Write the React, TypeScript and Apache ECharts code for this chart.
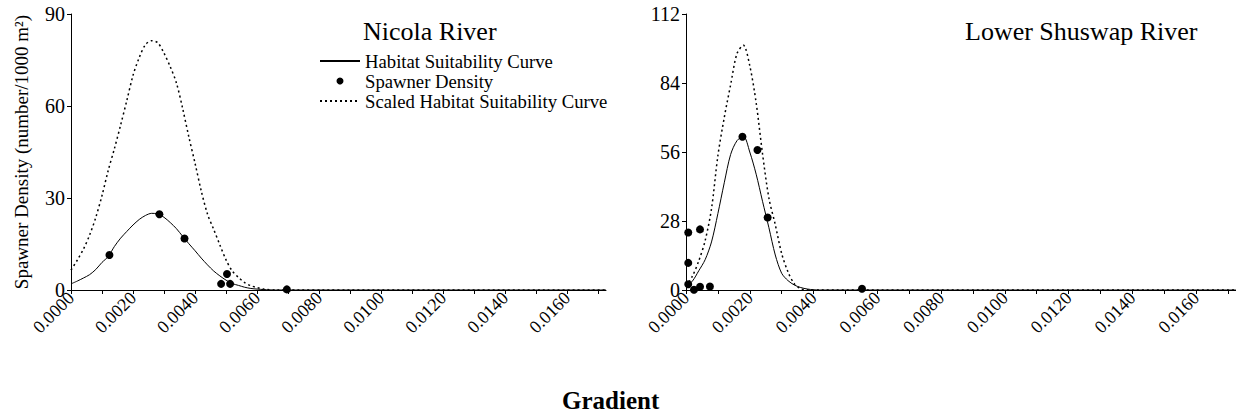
import React, { useEffect, useRef } from 'react';
import * as echarts from 'echarts';

const FONT = 'Liberation Serif';

// ---- Nicola River ----
const nicolaCurveX = [
  0, 0.0002, 0.0004, 0.0006, 0.0008, 0.001, 0.0012, 0.0014, 0.0016, 0.0018,
  0.002, 0.0022, 0.0024, 0.0026, 0.0028, 0.003, 0.0032, 0.0034, 0.0036, 0.0038,
  0.004, 0.0042, 0.0044, 0.0046, 0.0048, 0.005, 0.0052, 0.0054, 0.0056, 0.0058,
  0.006, 0.0062, 0.0064, 0.0066, 0.01725,
];
const nicolaHSC = [
  2.0, 2.9, 3.9, 5.0, 6.7, 9.0, 10.9, 14.2, 16.9, 19.1,
  21.2, 23.0, 24.3, 25.0, 24.8, 23.7, 22.0, 20.0, 17.5, 15.1,
  12.8, 10.4, 8.2, 6.2, 4.6, 3.2, 2.1, 1.5, 0.9, 0.5,
  0.3, 0.15, 0.05, 0, 0,
];
const nicolaScaled = [
  6.5, 9.7, 13.3, 17.9, 23.7, 30.8, 39.0, 46.1, 53.8, 61.8,
  70.0, 75.8, 80.0, 81.3, 80.6, 77.2, 72.8, 67.5, 59.2, 49.9,
  41.3, 32.3, 24.8, 19.8, 14.7, 9.8, 6.2, 4.1, 2.4, 1.4,
  0.8, 0.3, 0.1, 0, 0,
];
const nicolaPointX = [0.00124, 0.00285, 0.00366, 0.00484, 0.00503, 0.00513, 0.00696];
const nicolaPointY = [11.4, 24.7, 16.8, 2.0, 5.2, 2.0, 0.2];

// ---- Lower Shuswap River ----
const shuswapCurveX = [
  0, 0.0002, 0.0004, 0.0006, 0.0008, 0.001, 0.0012, 0.0014, 0.0016, 0.0018,
  0.002, 0.0022, 0.0024, 0.0026, 0.0028, 0.003, 0.0032, 0.0034, 0.0036, 0.0038,
  0.004, 0.0042, 0.01725,
];
const shuswapHSC = [
  1.5, 3.6, 7.8, 12.3, 19.5, 31.0, 43.5, 55.0, 60.6, 62.4,
  56.0, 47.0, 36.0, 25.3, 14.2, 6.8, 3.8, 2.0, 1.0, 0.4,
  0.1, 0, 0,
];
const shuswapScaled = [
  1.5, 5.6, 11.8, 20.0, 33.0, 54.5, 70.0, 83.3, 96.0, 99.3,
  91.0, 76.0, 55.3, 37.3, 26.5, 14.8, 7.3, 2.5, 0.5, 0.1,
  0, 0, 0,
];
const shuswapPointX = [
  0.00007, 0.00007, 0.00007, 0.00025, 0.00044, 0.00044, 0.00075, 0.00177, 0.00224, 0.00256, 0.00552,
];
const shuswapPointY = [23.3, 11.0, 2.3, 0.1, 1.3, 24.6, 1.4, 62.2, 56.8, 29.4, 0.5];

// ---- Axes ----
const xMax = 0.01725;
const xTickValues = [
  0, 0.001, 0.002, 0.003, 0.004, 0.005, 0.006, 0.007, 0.008, 0.009,
  0.01, 0.011, 0.012, 0.013, 0.014, 0.015, 0.016, 0.017,
];
const xLabelValues = [0, 0.002, 0.004, 0.006, 0.008, 0.01, 0.012, 0.014, 0.016];
const nicolaYMax = 90;
const nicolaYStep = 30;
const shuswapYMax = 112;
const shuswapYStep = 28;

const NAMES = {
  hsc: 'Habitat Suitability Curve',
  pts: 'Spawner Density',
  scaled: 'Scaled Habitat Suitability Curve',
};

const pairs = (xs: number[], ys: number[]) => xs.map((x, i) => [x, ys[i]]);

const makeX = (gridIndex: number) => ({
  type: 'value',
  gridIndex,
  min: 0,
  max: xMax,
  axisLine: { show: true, onZero: false, lineStyle: { color: '#000', width: 1 } },
  axisTick: { show: true, length: 4, customValues: xTickValues, lineStyle: { color: '#000' } },
  axisLabel: {
    customValues: xLabelValues,
    rotate: 45,
    margin: 5,
    color: '#000',
    fontFamily: FONT,
    fontSize: 18,
    formatter: (v: number) => v.toFixed(4),
  },
  splitLine: { show: false },
});

const makeY = (gridIndex: number, max: number, interval: number, name?: string) => ({
  type: 'value',
  gridIndex,
  min: 0,
  max,
  interval,
  name: name || '',
  nameLocation: 'middle',
  nameGap: 40,
  nameTextStyle: { color: '#000', fontFamily: FONT, fontSize: 19 },
  axisLine: { show: true, lineStyle: { color: '#000', width: 1 } },
  axisTick: { show: true, length: 4, lineStyle: { color: '#000' } },
  axisLabel: { margin: 6, color: '#000', fontFamily: FONT, fontSize: 20 },
  splitLine: { show: false },
});

const lineSeries = (name: string, data: number[][], idx: number, dashed: boolean) => ({
  type: 'line',
  name,
  xAxisIndex: idx,
  yAxisIndex: idx,
  data,
  symbol: 'none',
  smooth: 0.3,
  lineStyle: dashed
    ? { color: '#000', width: 1.5, type: [2, 3] }
    : { color: '#000', width: 1 },
  itemStyle: { color: 'rgba(0,0,0,0)' },
  z: 2,
});

const scatterSeries = (data: number[][], idx: number) => ({
  type: 'scatter',
  name: NAMES.pts,
  xAxisIndex: idx,
  yAxisIndex: idx,
  data,
  symbol: 'circle',
  symbolSize: 8,
  itemStyle: { color: '#000', opacity: 1 },
  z: 3,
});

const option = {
  animation: false,
  backgroundColor: '#fff',
  textStyle: { fontFamily: FONT },
  title: [
    {
      text: 'Nicola River',
      left: 363,
      top: 18,
      padding: 0,
      textStyle: { fontFamily: FONT, fontSize: 26, fontWeight: 'normal', color: '#000' },
    },
    {
      text: 'Lower Shuswap River',
      left: 965,
      top: 18,
      padding: 0,
      textStyle: { fontFamily: FONT, fontSize: 26, fontWeight: 'normal', color: '#000' },
    },
  ],
  legend: {
    orient: 'vertical',
    left: 319,
    top: 51,
    padding: 0,
    itemGap: 0,
    itemWidth: 40,
    itemHeight: 7,
    selectedMode: false,
    data: [
      { name: NAMES.hsc, itemStyle: { opacity: 0 } },
      { name: NAMES.pts },
      { name: NAMES.scaled, itemStyle: { opacity: 0 } },
    ],
    textStyle: { fontFamily: FONT, fontSize: 18.7, color: '#000', lineHeight: 20 },
  },
  graphic: [
    {
      type: 'text',
      left: 562,
      top: 388,
      style: { text: 'Gradient', fontFamily: FONT, fontSize: 25, fontWeight: 'bold', fill: '#000' },
    },
  ],
  grid: [
    { left: 71, top: 14, width: 535, height: 276, containLabel: false },
    { left: 686, top: 14, width: 550, height: 276, containLabel: false },
  ],
  xAxis: [makeX(0), makeX(1)],
  yAxis: [
    makeY(0, nicolaYMax, nicolaYStep, 'Spawner Density (number/1000 m²)'),
    makeY(1, shuswapYMax, shuswapYStep),
  ],
  series: [
    lineSeries(NAMES.hsc, pairs(nicolaCurveX, nicolaHSC), 0, false),
    scatterSeries(pairs(nicolaPointX, nicolaPointY), 0),
    lineSeries(NAMES.scaled, pairs(nicolaCurveX, nicolaScaled), 0, true),
    lineSeries(NAMES.hsc, pairs(shuswapCurveX, shuswapHSC), 1, false),
    scatterSeries(pairs(shuswapPointX, shuswapPointY), 1),
    lineSeries(NAMES.scaled, pairs(shuswapCurveX, shuswapScaled), 1, true),
  ],
};

export default function App() {
  const ref = useRef<HTMLDivElement>(null);
  useEffect(() => {
    document.body.style.margin = '0';
    const chart = echarts.init(ref.current!, null, { renderer: 'svg' });
    chart.setOption(option as any);
    return () => chart.dispose();
  }, []);
  return <div ref={ref} style={{ width: 1236, height: 420 }} />;
}
